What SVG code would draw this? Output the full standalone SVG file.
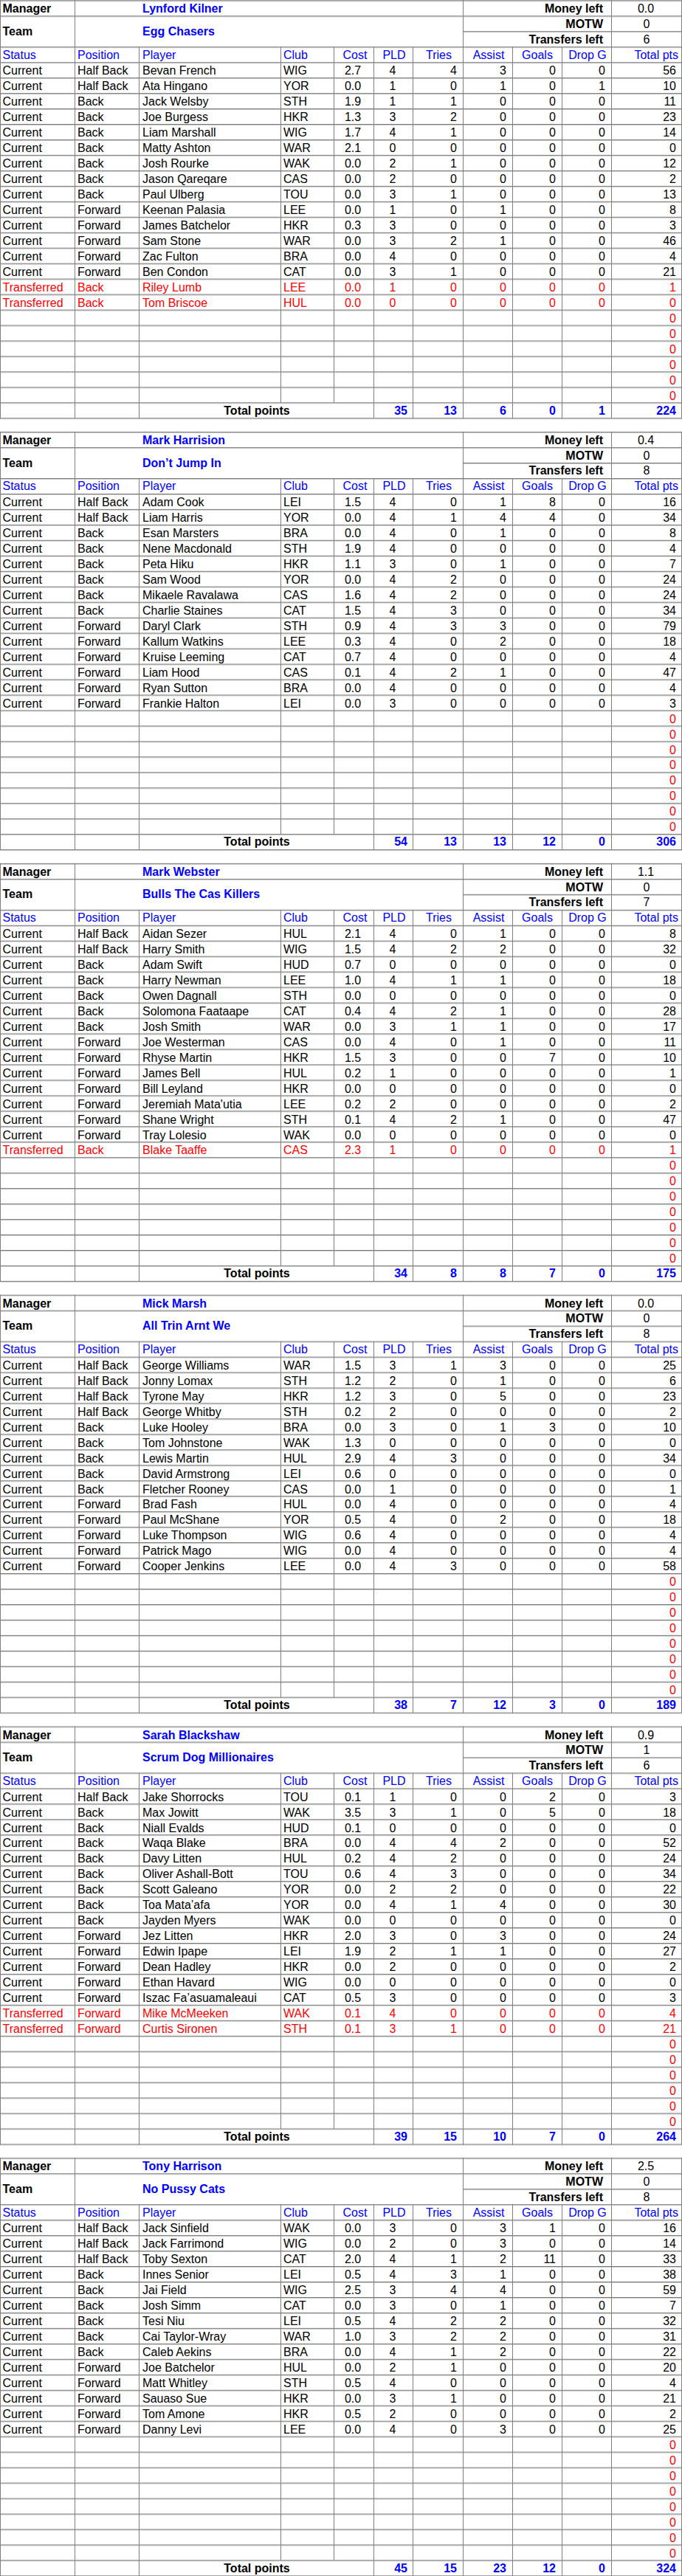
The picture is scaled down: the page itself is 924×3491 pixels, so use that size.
<svg xmlns="http://www.w3.org/2000/svg" xmlns:xlink="http://www.w3.org/1999/xlink" width="924" height="3491" viewBox="0 0 924 3491">
<style>
text{font-family:"Liberation Sans",Arial,Helvetica,sans-serif;font-size:16px;fill:#000}
.b{font-weight:bold}
text.bl,.bl text{fill:#0000ff}
.r text{fill:#ff0000}
.m{text-anchor:middle}
.e{text-anchor:end}
.gd{stroke:#7a7a7a;stroke-width:1;fill:none}
.gl{stroke:#cbcbcb;stroke-width:1;fill:none}
.gv{stroke:#7f7f7f;stroke-width:1;fill:none}
</style>
<defs>
<g id="frame">
<path class="gl" d="M0 1.5H924M0 22.5H924M627 43.4H924M0 64.4H924M0 85.4H924M0 106.3H924M0 127.3H924M0 148.2H924M0 169.2H924M0 190.2H924M0 211.1H924M0 232.1H924M0 253.1H924M0 274H924M0 295H924M0 316H924M0 336.9H924M0 357.9H924M0 378.8H924M0 399.8H924M0 420.8H924M0 441.7H924M0 462.7H924M0 483.7H924M0 504.6H924M0 525.6H924M0 546.5H924M0 567.5H924"/>
<path class="gd" d="M0 0.5H924M0 21.5H924M627 42.4H924M0 63.4H924M0 84.4H924M0 105.3H924M0 126.3H924M0 147.2H924M0 168.2H924M0 189.2H924M0 210.1H924M0 231.1H924M0 252.1H924M0 273H924M0 294H924M0 315H924M0 335.9H924M0 356.9H924M0 377.8H924M0 398.8H924M0 419.8H924M0 440.7H924M0 461.7H924M0 482.7H924M0 503.6H924M0 524.6H924M0 545.5H924M0 566.5H924"/>
<path class="gv" d="M0.5 0V567M923.5 0V567M101.5 0V567M627.5 0V567M828.5 0V567M188.5 63.4V567M506.5 63.4V567M559.5 63.4V567M694.5 63.4V567M761.5 63.4V567M380.5 63.4V545.5M452.5 63.4V545.5"/>
<text class="b" x="3.5" y="17.2">Manager</text>
<text class="b" x="3.5" y="47.5">Team</text>
<text class="b e" x="817" y="17.2">Money left</text>
<text class="b e" x="817" y="37.8">MOTW</text>
<text class="b e" x="817" y="58.3">Transfers left</text>
<g class="bl">
<text x="3.5" y="79.4">Status</text>
<text x="105" y="79.4">Position</text>
<text x="193" y="79.4">Player</text>
<text x="384" y="79.4">Club</text>
<text class="m" x="481" y="79.4">Cost</text>
<text class="m" x="534" y="79.4">PLD</text>
<text class="m" x="594.5" y="79.4">Tries</text>
<text class="m" x="662" y="79.4">Assist</text>
<text class="m" x="728" y="79.4">Goals</text>
<text class="m" x="796" y="79.4">Drop G</text>
<text class="e" x="919" y="79.4">Total pts</text>
</g>
<text class="b m" x="348" y="561.3">Total points</text>
</g>
</defs>

<g id="team-1" transform="translate(0,0.3)">
<use xlink:href="#frame" href="#frame"/>
<text class="b bl" x="193" y="17.2">Lynford Kilner</text>
<text class="b bl" x="193" y="47.5">Egg Chasers</text>
<text class="m" x="875" y="17.2">0.0</text>
<text class="m" x="876" y="37.8">0</text>
<text class="m" x="876" y="58.3">6</text>
<g transform="translate(0,101.1)"><text x="3.5">Current</text><text x="105">Half Back</text><text x="193">Bevan French</text><text x="384">WIG</text><text x="478" class="m">2.7</text><text x="532" class="m">4</text><text x="619" class="e">4</text><text x="686" class="e">3</text><text x="753" class="e">0</text><text x="820" class="e">0</text><text x="916" class="e">56</text></g>
<g transform="translate(0,122)"><text x="3.5">Current</text><text x="105">Half Back</text><text x="193">Ata Hingano</text><text x="384">YOR</text><text x="478" class="m">0.0</text><text x="532" class="m">1</text><text x="619" class="e">0</text><text x="686" class="e">1</text><text x="753" class="e">0</text><text x="820" class="e">1</text><text x="916" class="e">10</text></g>
<g transform="translate(0,143)"><text x="3.5">Current</text><text x="105">Back</text><text x="193">Jack Welsby</text><text x="384">STH</text><text x="478" class="m">1.9</text><text x="532" class="m">1</text><text x="619" class="e">1</text><text x="686" class="e">0</text><text x="753" class="e">0</text><text x="820" class="e">0</text><text x="916" class="e">11</text></g>
<g transform="translate(0,163.9)"><text x="3.5">Current</text><text x="105">Back</text><text x="193">Joe Burgess</text><text x="384">HKR</text><text x="478" class="m">1.3</text><text x="532" class="m">3</text><text x="619" class="e">2</text><text x="686" class="e">0</text><text x="753" class="e">0</text><text x="820" class="e">0</text><text x="916" class="e">23</text></g>
<g transform="translate(0,184.9)"><text x="3.5">Current</text><text x="105">Back</text><text x="193">Liam Marshall</text><text x="384">WIG</text><text x="478" class="m">1.7</text><text x="532" class="m">4</text><text x="619" class="e">1</text><text x="686" class="e">0</text><text x="753" class="e">0</text><text x="820" class="e">0</text><text x="916" class="e">14</text></g>
<g transform="translate(0,205.9)"><text x="3.5">Current</text><text x="105">Back</text><text x="193">Matty Ashton</text><text x="384">WAR</text><text x="478" class="m">2.1</text><text x="532" class="m">0</text><text x="619" class="e">0</text><text x="686" class="e">0</text><text x="753" class="e">0</text><text x="820" class="e">0</text><text x="916" class="e">0</text></g>
<g transform="translate(0,226.8)"><text x="3.5">Current</text><text x="105">Back</text><text x="193">Josh Rourke</text><text x="384">WAK</text><text x="478" class="m">0.0</text><text x="532" class="m">2</text><text x="619" class="e">1</text><text x="686" class="e">0</text><text x="753" class="e">0</text><text x="820" class="e">0</text><text x="916" class="e">12</text></g>
<g transform="translate(0,247.8)"><text x="3.5">Current</text><text x="105">Back</text><text x="193">Jason Qareqare</text><text x="384">CAS</text><text x="478" class="m">0.0</text><text x="532" class="m">2</text><text x="619" class="e">0</text><text x="686" class="e">0</text><text x="753" class="e">0</text><text x="820" class="e">0</text><text x="916" class="e">2</text></g>
<g transform="translate(0,268.8)"><text x="3.5">Current</text><text x="105">Back</text><text x="193">Paul Ulberg</text><text x="384">TOU</text><text x="478" class="m">0.0</text><text x="532" class="m">3</text><text x="619" class="e">1</text><text x="686" class="e">0</text><text x="753" class="e">0</text><text x="820" class="e">0</text><text x="916" class="e">13</text></g>
<g transform="translate(0,289.7)"><text x="3.5">Current</text><text x="105">Forward</text><text x="193">Keenan Palasia</text><text x="384">LEE</text><text x="478" class="m">0.0</text><text x="532" class="m">1</text><text x="619" class="e">0</text><text x="686" class="e">1</text><text x="753" class="e">0</text><text x="820" class="e">0</text><text x="916" class="e">8</text></g>
<g transform="translate(0,310.7)"><text x="3.5">Current</text><text x="105">Forward</text><text x="193">James Batchelor</text><text x="384">HKR</text><text x="478" class="m">0.3</text><text x="532" class="m">3</text><text x="619" class="e">0</text><text x="686" class="e">0</text><text x="753" class="e">0</text><text x="820" class="e">0</text><text x="916" class="e">3</text></g>
<g transform="translate(0,331.6)"><text x="3.5">Current</text><text x="105">Forward</text><text x="193">Sam Stone</text><text x="384">WAR</text><text x="478" class="m">0.0</text><text x="532" class="m">3</text><text x="619" class="e">2</text><text x="686" class="e">1</text><text x="753" class="e">0</text><text x="820" class="e">0</text><text x="916" class="e">46</text></g>
<g transform="translate(0,352.6)"><text x="3.5">Current</text><text x="105">Forward</text><text x="193">Zac Fulton</text><text x="384">BRA</text><text x="478" class="m">0.0</text><text x="532" class="m">4</text><text x="619" class="e">0</text><text x="686" class="e">0</text><text x="753" class="e">0</text><text x="820" class="e">0</text><text x="916" class="e">4</text></g>
<g transform="translate(0,373.6)"><text x="3.5">Current</text><text x="105">Forward</text><text x="193">Ben Condon</text><text x="384">CAT</text><text x="478" class="m">0.0</text><text x="532" class="m">3</text><text x="619" class="e">1</text><text x="686" class="e">0</text><text x="753" class="e">0</text><text x="820" class="e">0</text><text x="916" class="e">21</text></g>
<g class="r" transform="translate(0,394.5)"><text x="3.5">Transferred</text><text x="105">Back</text><text x="193">Riley Lumb</text><text x="384">LEE</text><text x="478" class="m">0.0</text><text x="532" class="m">1</text><text x="619" class="e">0</text><text x="686" class="e">0</text><text x="753" class="e">0</text><text x="820" class="e">0</text><text x="916" class="e">1</text></g>
<g class="r" transform="translate(0,415.5)"><text x="3.5">Transferred</text><text x="105">Back</text><text x="193">Tom Briscoe</text><text x="384">HUL</text><text x="478" class="m">0.0</text><text x="532" class="m">0</text><text x="619" class="e">0</text><text x="686" class="e">0</text><text x="753" class="e">0</text><text x="820" class="e">0</text><text x="916" class="e">0</text></g>
<g class="r"><text x="916" y="436.5" class="e">0</text><text x="916" y="457.4" class="e">0</text><text x="916" y="478.4" class="e">0</text><text x="916" y="499.3" class="e">0</text><text x="916" y="520.3" class="e">0</text><text x="916" y="541.3" class="e">0</text></g>
<g class="b bl"><text x="552" y="561.3" class="e">35</text><text x="619" y="561.3" class="e">13</text><text x="686" y="561.3" class="e">6</text><text x="753" y="561.3" class="e">0</text><text x="820" y="561.3" class="e">1</text><text x="916" y="561.3" class="e">224</text></g>
</g>

<g id="team-2" transform="translate(0,585.1)">
<use xlink:href="#frame" href="#frame"/>
<text class="b bl" x="193" y="17.2">Mark Harrision</text>
<text class="b bl" x="193" y="47.5">Don’t Jump In</text>
<text class="m" x="875" y="17.2">0.4</text>
<text class="m" x="876" y="37.8">0</text>
<text class="m" x="876" y="58.3">8</text>
<g transform="translate(0,101.1)"><text x="3.5">Current</text><text x="105">Half Back</text><text x="193">Adam Cook</text><text x="384">LEI</text><text x="478" class="m">1.5</text><text x="532" class="m">4</text><text x="619" class="e">0</text><text x="686" class="e">1</text><text x="753" class="e">8</text><text x="820" class="e">0</text><text x="916" class="e">16</text></g>
<g transform="translate(0,122)"><text x="3.5">Current</text><text x="105">Half Back</text><text x="193">Liam Harris</text><text x="384">YOR</text><text x="478" class="m">0.0</text><text x="532" class="m">4</text><text x="619" class="e">1</text><text x="686" class="e">4</text><text x="753" class="e">4</text><text x="820" class="e">0</text><text x="916" class="e">34</text></g>
<g transform="translate(0,143)"><text x="3.5">Current</text><text x="105">Back</text><text x="193">Esan Marsters</text><text x="384">BRA</text><text x="478" class="m">0.0</text><text x="532" class="m">4</text><text x="619" class="e">0</text><text x="686" class="e">1</text><text x="753" class="e">0</text><text x="820" class="e">0</text><text x="916" class="e">8</text></g>
<g transform="translate(0,163.9)"><text x="3.5">Current</text><text x="105">Back</text><text x="193">Nene Macdonald</text><text x="384">STH</text><text x="478" class="m">1.9</text><text x="532" class="m">4</text><text x="619" class="e">0</text><text x="686" class="e">0</text><text x="753" class="e">0</text><text x="820" class="e">0</text><text x="916" class="e">4</text></g>
<g transform="translate(0,184.9)"><text x="3.5">Current</text><text x="105">Back</text><text x="193">Peta Hiku</text><text x="384">HKR</text><text x="478" class="m">1.1</text><text x="532" class="m">3</text><text x="619" class="e">0</text><text x="686" class="e">1</text><text x="753" class="e">0</text><text x="820" class="e">0</text><text x="916" class="e">7</text></g>
<g transform="translate(0,205.9)"><text x="3.5">Current</text><text x="105">Back</text><text x="193">Sam Wood</text><text x="384">YOR</text><text x="478" class="m">0.0</text><text x="532" class="m">4</text><text x="619" class="e">2</text><text x="686" class="e">0</text><text x="753" class="e">0</text><text x="820" class="e">0</text><text x="916" class="e">24</text></g>
<g transform="translate(0,226.8)"><text x="3.5">Current</text><text x="105">Back</text><text x="193">Mikaele Ravalawa</text><text x="384">CAS</text><text x="478" class="m">1.6</text><text x="532" class="m">4</text><text x="619" class="e">2</text><text x="686" class="e">0</text><text x="753" class="e">0</text><text x="820" class="e">0</text><text x="916" class="e">24</text></g>
<g transform="translate(0,247.8)"><text x="3.5">Current</text><text x="105">Back</text><text x="193">Charlie Staines</text><text x="384">CAT</text><text x="478" class="m">1.5</text><text x="532" class="m">4</text><text x="619" class="e">3</text><text x="686" class="e">0</text><text x="753" class="e">0</text><text x="820" class="e">0</text><text x="916" class="e">34</text></g>
<g transform="translate(0,268.8)"><text x="3.5">Current</text><text x="105">Forward</text><text x="193">Daryl Clark</text><text x="384">STH</text><text x="478" class="m">0.9</text><text x="532" class="m">4</text><text x="619" class="e">3</text><text x="686" class="e">3</text><text x="753" class="e">0</text><text x="820" class="e">0</text><text x="916" class="e">79</text></g>
<g transform="translate(0,289.7)"><text x="3.5">Current</text><text x="105">Forward</text><text x="193">Kallum Watkins</text><text x="384">LEE</text><text x="478" class="m">0.3</text><text x="532" class="m">4</text><text x="619" class="e">0</text><text x="686" class="e">2</text><text x="753" class="e">0</text><text x="820" class="e">0</text><text x="916" class="e">18</text></g>
<g transform="translate(0,310.7)"><text x="3.5">Current</text><text x="105">Forward</text><text x="193">Kruise Leeming</text><text x="384">CAT</text><text x="478" class="m">0.7</text><text x="532" class="m">4</text><text x="619" class="e">0</text><text x="686" class="e">0</text><text x="753" class="e">0</text><text x="820" class="e">0</text><text x="916" class="e">4</text></g>
<g transform="translate(0,331.6)"><text x="3.5">Current</text><text x="105">Forward</text><text x="193">Liam Hood</text><text x="384">CAS</text><text x="478" class="m">0.1</text><text x="532" class="m">4</text><text x="619" class="e">2</text><text x="686" class="e">1</text><text x="753" class="e">0</text><text x="820" class="e">0</text><text x="916" class="e">47</text></g>
<g transform="translate(0,352.6)"><text x="3.5">Current</text><text x="105">Forward</text><text x="193">Ryan Sutton</text><text x="384">BRA</text><text x="478" class="m">0.0</text><text x="532" class="m">4</text><text x="619" class="e">0</text><text x="686" class="e">0</text><text x="753" class="e">0</text><text x="820" class="e">0</text><text x="916" class="e">4</text></g>
<g transform="translate(0,373.6)"><text x="3.5">Current</text><text x="105">Forward</text><text x="193">Frankie Halton</text><text x="384">LEI</text><text x="478" class="m">0.0</text><text x="532" class="m">3</text><text x="619" class="e">0</text><text x="686" class="e">0</text><text x="753" class="e">0</text><text x="820" class="e">0</text><text x="916" class="e">3</text></g>
<g class="r"><text x="916" y="394.5" class="e">0</text><text x="916" y="415.5" class="e">0</text><text x="916" y="436.5" class="e">0</text><text x="916" y="457.4" class="e">0</text><text x="916" y="478.4" class="e">0</text><text x="916" y="499.3" class="e">0</text><text x="916" y="520.3" class="e">0</text><text x="916" y="541.3" class="e">0</text></g>
<g class="b bl"><text x="552" y="561.3" class="e">54</text><text x="619" y="561.3" class="e">13</text><text x="686" y="561.3" class="e">13</text><text x="753" y="561.3" class="e">12</text><text x="820" y="561.3" class="e">0</text><text x="916" y="561.3" class="e">306</text></g>
</g>

<g id="team-3" transform="translate(0,1169.9)">
<use xlink:href="#frame" href="#frame"/>
<text class="b bl" x="193" y="17.2">Mark Webster</text>
<text class="b bl" x="193" y="47.5">Bulls The Cas Killers</text>
<text class="m" x="875" y="17.2">1.1</text>
<text class="m" x="876" y="37.8">0</text>
<text class="m" x="876" y="58.3">7</text>
<g transform="translate(0,101.1)"><text x="3.5">Current</text><text x="105">Half Back</text><text x="193">Aidan Sezer</text><text x="384">HUL</text><text x="478" class="m">2.1</text><text x="532" class="m">4</text><text x="619" class="e">0</text><text x="686" class="e">1</text><text x="753" class="e">0</text><text x="820" class="e">0</text><text x="916" class="e">8</text></g>
<g transform="translate(0,122)"><text x="3.5">Current</text><text x="105">Half Back</text><text x="193">Harry Smith</text><text x="384">WIG</text><text x="478" class="m">1.5</text><text x="532" class="m">4</text><text x="619" class="e">2</text><text x="686" class="e">2</text><text x="753" class="e">0</text><text x="820" class="e">0</text><text x="916" class="e">32</text></g>
<g transform="translate(0,143)"><text x="3.5">Current</text><text x="105">Back</text><text x="193">Adam Swift</text><text x="384">HUD</text><text x="478" class="m">0.7</text><text x="532" class="m">0</text><text x="619" class="e">0</text><text x="686" class="e">0</text><text x="753" class="e">0</text><text x="820" class="e">0</text><text x="916" class="e">0</text></g>
<g transform="translate(0,163.9)"><text x="3.5">Current</text><text x="105">Back</text><text x="193">Harry Newman</text><text x="384">LEE</text><text x="478" class="m">1.0</text><text x="532" class="m">4</text><text x="619" class="e">1</text><text x="686" class="e">1</text><text x="753" class="e">0</text><text x="820" class="e">0</text><text x="916" class="e">18</text></g>
<g transform="translate(0,184.9)"><text x="3.5">Current</text><text x="105">Back</text><text x="193">Owen Dagnall</text><text x="384">STH</text><text x="478" class="m">0.0</text><text x="532" class="m">0</text><text x="619" class="e">0</text><text x="686" class="e">0</text><text x="753" class="e">0</text><text x="820" class="e">0</text><text x="916" class="e">0</text></g>
<g transform="translate(0,205.9)"><text x="3.5">Current</text><text x="105">Back</text><text x="193">Solomona Faataape</text><text x="384">CAT</text><text x="478" class="m">0.4</text><text x="532" class="m">4</text><text x="619" class="e">2</text><text x="686" class="e">1</text><text x="753" class="e">0</text><text x="820" class="e">0</text><text x="916" class="e">28</text></g>
<g transform="translate(0,226.8)"><text x="3.5">Current</text><text x="105">Back</text><text x="193">Josh Smith</text><text x="384">WAR</text><text x="478" class="m">0.0</text><text x="532" class="m">3</text><text x="619" class="e">1</text><text x="686" class="e">1</text><text x="753" class="e">0</text><text x="820" class="e">0</text><text x="916" class="e">17</text></g>
<g transform="translate(0,247.8)"><text x="3.5">Current</text><text x="105">Forward</text><text x="193">Joe Westerman</text><text x="384">CAS</text><text x="478" class="m">0.0</text><text x="532" class="m">4</text><text x="619" class="e">0</text><text x="686" class="e">1</text><text x="753" class="e">0</text><text x="820" class="e">0</text><text x="916" class="e">11</text></g>
<g transform="translate(0,268.8)"><text x="3.5">Current</text><text x="105">Forward</text><text x="193">Rhyse Martin</text><text x="384">HKR</text><text x="478" class="m">1.5</text><text x="532" class="m">3</text><text x="619" class="e">0</text><text x="686" class="e">0</text><text x="753" class="e">7</text><text x="820" class="e">0</text><text x="916" class="e">10</text></g>
<g transform="translate(0,289.7)"><text x="3.5">Current</text><text x="105">Forward</text><text x="193">James Bell</text><text x="384">HUL</text><text x="478" class="m">0.2</text><text x="532" class="m">1</text><text x="619" class="e">0</text><text x="686" class="e">0</text><text x="753" class="e">0</text><text x="820" class="e">0</text><text x="916" class="e">1</text></g>
<g transform="translate(0,310.7)"><text x="3.5">Current</text><text x="105">Forward</text><text x="193">Bill Leyland</text><text x="384">HKR</text><text x="478" class="m">0.0</text><text x="532" class="m">0</text><text x="619" class="e">0</text><text x="686" class="e">0</text><text x="753" class="e">0</text><text x="820" class="e">0</text><text x="916" class="e">0</text></g>
<g transform="translate(0,331.6)"><text x="3.5">Current</text><text x="105">Forward</text><text x="193">Jeremiah Mata'utia</text><text x="384">LEE</text><text x="478" class="m">0.2</text><text x="532" class="m">2</text><text x="619" class="e">0</text><text x="686" class="e">0</text><text x="753" class="e">0</text><text x="820" class="e">0</text><text x="916" class="e">2</text></g>
<g transform="translate(0,352.6)"><text x="3.5">Current</text><text x="105">Forward</text><text x="193">Shane Wright</text><text x="384">STH</text><text x="478" class="m">0.1</text><text x="532" class="m">4</text><text x="619" class="e">2</text><text x="686" class="e">1</text><text x="753" class="e">0</text><text x="820" class="e">0</text><text x="916" class="e">47</text></g>
<g transform="translate(0,373.6)"><text x="3.5">Current</text><text x="105">Forward</text><text x="193">Tray Lolesio</text><text x="384">WAK</text><text x="478" class="m">0.0</text><text x="532" class="m">0</text><text x="619" class="e">0</text><text x="686" class="e">0</text><text x="753" class="e">0</text><text x="820" class="e">0</text><text x="916" class="e">0</text></g>
<g class="r" transform="translate(0,394.5)"><text x="3.5">Transferred</text><text x="105">Back</text><text x="193">Blake Taaffe</text><text x="384">CAS</text><text x="478" class="m">2.3</text><text x="532" class="m">1</text><text x="619" class="e">0</text><text x="686" class="e">0</text><text x="753" class="e">0</text><text x="820" class="e">0</text><text x="916" class="e">1</text></g>
<g class="r"><text x="916" y="415.5" class="e">0</text><text x="916" y="436.5" class="e">0</text><text x="916" y="457.4" class="e">0</text><text x="916" y="478.4" class="e">0</text><text x="916" y="499.3" class="e">0</text><text x="916" y="520.3" class="e">0</text><text x="916" y="541.3" class="e">0</text></g>
<g class="b bl"><text x="552" y="561.3" class="e">34</text><text x="619" y="561.3" class="e">8</text><text x="686" y="561.3" class="e">8</text><text x="753" y="561.3" class="e">7</text><text x="820" y="561.3" class="e">0</text><text x="916" y="561.3" class="e">175</text></g>
</g>

<g id="team-4" transform="translate(0,1754.7)">
<use xlink:href="#frame" href="#frame"/>
<text class="b bl" x="193" y="17.2">Mick Marsh</text>
<text class="b bl" x="193" y="47.5">All Trin Arnt We</text>
<text class="m" x="875" y="17.2">0.0</text>
<text class="m" x="876" y="37.8">0</text>
<text class="m" x="876" y="58.3">8</text>
<g transform="translate(0,101.1)"><text x="3.5">Current</text><text x="105">Half Back</text><text x="193">George Williams</text><text x="384">WAR</text><text x="478" class="m">1.5</text><text x="532" class="m">3</text><text x="619" class="e">1</text><text x="686" class="e">3</text><text x="753" class="e">0</text><text x="820" class="e">0</text><text x="916" class="e">25</text></g>
<g transform="translate(0,122)"><text x="3.5">Current</text><text x="105">Half Back</text><text x="193">Jonny Lomax</text><text x="384">STH</text><text x="478" class="m">1.2</text><text x="532" class="m">2</text><text x="619" class="e">0</text><text x="686" class="e">1</text><text x="753" class="e">0</text><text x="820" class="e">0</text><text x="916" class="e">6</text></g>
<g transform="translate(0,143)"><text x="3.5">Current</text><text x="105">Half Back</text><text x="193">Tyrone May</text><text x="384">HKR</text><text x="478" class="m">1.2</text><text x="532" class="m">3</text><text x="619" class="e">0</text><text x="686" class="e">5</text><text x="753" class="e">0</text><text x="820" class="e">0</text><text x="916" class="e">23</text></g>
<g transform="translate(0,163.9)"><text x="3.5">Current</text><text x="105">Half Back</text><text x="193">George Whitby</text><text x="384">STH</text><text x="478" class="m">0.2</text><text x="532" class="m">2</text><text x="619" class="e">0</text><text x="686" class="e">0</text><text x="753" class="e">0</text><text x="820" class="e">0</text><text x="916" class="e">2</text></g>
<g transform="translate(0,184.9)"><text x="3.5">Current</text><text x="105">Back</text><text x="193">Luke Hooley</text><text x="384">BRA</text><text x="478" class="m">0.0</text><text x="532" class="m">3</text><text x="619" class="e">0</text><text x="686" class="e">1</text><text x="753" class="e">3</text><text x="820" class="e">0</text><text x="916" class="e">10</text></g>
<g transform="translate(0,205.9)"><text x="3.5">Current</text><text x="105">Back</text><text x="193">Tom Johnstone</text><text x="384">WAK</text><text x="478" class="m">1.3</text><text x="532" class="m">0</text><text x="619" class="e">0</text><text x="686" class="e">0</text><text x="753" class="e">0</text><text x="820" class="e">0</text><text x="916" class="e">0</text></g>
<g transform="translate(0,226.8)"><text x="3.5">Current</text><text x="105">Back</text><text x="193">Lewis Martin</text><text x="384">HUL</text><text x="478" class="m">2.9</text><text x="532" class="m">4</text><text x="619" class="e">3</text><text x="686" class="e">0</text><text x="753" class="e">0</text><text x="820" class="e">0</text><text x="916" class="e">34</text></g>
<g transform="translate(0,247.8)"><text x="3.5">Current</text><text x="105">Back</text><text x="193">David Armstrong</text><text x="384">LEI</text><text x="478" class="m">0.6</text><text x="532" class="m">0</text><text x="619" class="e">0</text><text x="686" class="e">0</text><text x="753" class="e">0</text><text x="820" class="e">0</text><text x="916" class="e">0</text></g>
<g transform="translate(0,268.8)"><text x="3.5">Current</text><text x="105">Back</text><text x="193">Fletcher Rooney</text><text x="384">CAS</text><text x="478" class="m">0.0</text><text x="532" class="m">1</text><text x="619" class="e">0</text><text x="686" class="e">0</text><text x="753" class="e">0</text><text x="820" class="e">0</text><text x="916" class="e">1</text></g>
<g transform="translate(0,289.7)"><text x="3.5">Current</text><text x="105">Forward</text><text x="193">Brad Fash</text><text x="384">HUL</text><text x="478" class="m">0.0</text><text x="532" class="m">4</text><text x="619" class="e">0</text><text x="686" class="e">0</text><text x="753" class="e">0</text><text x="820" class="e">0</text><text x="916" class="e">4</text></g>
<g transform="translate(0,310.7)"><text x="3.5">Current</text><text x="105">Forward</text><text x="193">Paul McShane</text><text x="384">YOR</text><text x="478" class="m">0.5</text><text x="532" class="m">4</text><text x="619" class="e">0</text><text x="686" class="e">2</text><text x="753" class="e">0</text><text x="820" class="e">0</text><text x="916" class="e">18</text></g>
<g transform="translate(0,331.6)"><text x="3.5">Current</text><text x="105">Forward</text><text x="193">Luke Thompson</text><text x="384">WIG</text><text x="478" class="m">0.6</text><text x="532" class="m">4</text><text x="619" class="e">0</text><text x="686" class="e">0</text><text x="753" class="e">0</text><text x="820" class="e">0</text><text x="916" class="e">4</text></g>
<g transform="translate(0,352.6)"><text x="3.5">Current</text><text x="105">Forward</text><text x="193">Patrick Mago</text><text x="384">WIG</text><text x="478" class="m">0.0</text><text x="532" class="m">4</text><text x="619" class="e">0</text><text x="686" class="e">0</text><text x="753" class="e">0</text><text x="820" class="e">0</text><text x="916" class="e">4</text></g>
<g transform="translate(0,373.6)"><text x="3.5">Current</text><text x="105">Forward</text><text x="193">Cooper Jenkins</text><text x="384">LEE</text><text x="478" class="m">0.0</text><text x="532" class="m">4</text><text x="619" class="e">3</text><text x="686" class="e">0</text><text x="753" class="e">0</text><text x="820" class="e">0</text><text x="916" class="e">58</text></g>
<g class="r"><text x="916" y="394.5" class="e">0</text><text x="916" y="415.5" class="e">0</text><text x="916" y="436.5" class="e">0</text><text x="916" y="457.4" class="e">0</text><text x="916" y="478.4" class="e">0</text><text x="916" y="499.3" class="e">0</text><text x="916" y="520.3" class="e">0</text><text x="916" y="541.3" class="e">0</text></g>
<g class="b bl"><text x="552" y="561.3" class="e">38</text><text x="619" y="561.3" class="e">7</text><text x="686" y="561.3" class="e">12</text><text x="753" y="561.3" class="e">3</text><text x="820" y="561.3" class="e">0</text><text x="916" y="561.3" class="e">189</text></g>
</g>

<g id="team-5" transform="translate(0,2339.5)">
<use xlink:href="#frame" href="#frame"/>
<text class="b bl" x="193" y="17.2">Sarah Blackshaw</text>
<text class="b bl" x="193" y="47.5">Scrum Dog Millionaires</text>
<text class="m" x="875" y="17.2">0.9</text>
<text class="m" x="876" y="37.8">1</text>
<text class="m" x="876" y="58.3">6</text>
<g transform="translate(0,101.1)"><text x="3.5">Current</text><text x="105">Half Back</text><text x="193">Jake Shorrocks</text><text x="384">TOU</text><text x="478" class="m">0.1</text><text x="532" class="m">1</text><text x="619" class="e">0</text><text x="686" class="e">0</text><text x="753" class="e">2</text><text x="820" class="e">0</text><text x="916" class="e">3</text></g>
<g transform="translate(0,122)"><text x="3.5">Current</text><text x="105">Back</text><text x="193">Max Jowitt</text><text x="384">WAK</text><text x="478" class="m">3.5</text><text x="532" class="m">3</text><text x="619" class="e">1</text><text x="686" class="e">0</text><text x="753" class="e">5</text><text x="820" class="e">0</text><text x="916" class="e">18</text></g>
<g transform="translate(0,143)"><text x="3.5">Current</text><text x="105">Back</text><text x="193">Niall Evalds</text><text x="384">HUD</text><text x="478" class="m">0.1</text><text x="532" class="m">0</text><text x="619" class="e">0</text><text x="686" class="e">0</text><text x="753" class="e">0</text><text x="820" class="e">0</text><text x="916" class="e">0</text></g>
<g transform="translate(0,163.9)"><text x="3.5">Current</text><text x="105">Back</text><text x="193">Waqa Blake</text><text x="384">BRA</text><text x="478" class="m">0.0</text><text x="532" class="m">4</text><text x="619" class="e">4</text><text x="686" class="e">2</text><text x="753" class="e">0</text><text x="820" class="e">0</text><text x="916" class="e">52</text></g>
<g transform="translate(0,184.9)"><text x="3.5">Current</text><text x="105">Back</text><text x="193">Davy Litten</text><text x="384">HUL</text><text x="478" class="m">0.2</text><text x="532" class="m">4</text><text x="619" class="e">2</text><text x="686" class="e">0</text><text x="753" class="e">0</text><text x="820" class="e">0</text><text x="916" class="e">24</text></g>
<g transform="translate(0,205.9)"><text x="3.5">Current</text><text x="105">Back</text><text x="193">Oliver Ashall-Bott</text><text x="384">TOU</text><text x="478" class="m">0.6</text><text x="532" class="m">4</text><text x="619" class="e">3</text><text x="686" class="e">0</text><text x="753" class="e">0</text><text x="820" class="e">0</text><text x="916" class="e">34</text></g>
<g transform="translate(0,226.8)"><text x="3.5">Current</text><text x="105">Back</text><text x="193">Scott Galeano</text><text x="384">YOR</text><text x="478" class="m">0.0</text><text x="532" class="m">2</text><text x="619" class="e">2</text><text x="686" class="e">0</text><text x="753" class="e">0</text><text x="820" class="e">0</text><text x="916" class="e">22</text></g>
<g transform="translate(0,247.8)"><text x="3.5">Current</text><text x="105">Back</text><text x="193">Toa Mata’afa</text><text x="384">YOR</text><text x="478" class="m">0.0</text><text x="532" class="m">4</text><text x="619" class="e">1</text><text x="686" class="e">4</text><text x="753" class="e">0</text><text x="820" class="e">0</text><text x="916" class="e">30</text></g>
<g transform="translate(0,268.8)"><text x="3.5">Current</text><text x="105">Back</text><text x="193">Jayden Myers</text><text x="384">WAK</text><text x="478" class="m">0.0</text><text x="532" class="m">0</text><text x="619" class="e">0</text><text x="686" class="e">0</text><text x="753" class="e">0</text><text x="820" class="e">0</text><text x="916" class="e">0</text></g>
<g transform="translate(0,289.7)"><text x="3.5">Current</text><text x="105">Forward</text><text x="193">Jez Litten</text><text x="384">HKR</text><text x="478" class="m">2.0</text><text x="532" class="m">3</text><text x="619" class="e">0</text><text x="686" class="e">3</text><text x="753" class="e">0</text><text x="820" class="e">0</text><text x="916" class="e">24</text></g>
<g transform="translate(0,310.7)"><text x="3.5">Current</text><text x="105">Forward</text><text x="193">Edwin Ipape</text><text x="384">LEI</text><text x="478" class="m">1.9</text><text x="532" class="m">2</text><text x="619" class="e">1</text><text x="686" class="e">1</text><text x="753" class="e">0</text><text x="820" class="e">0</text><text x="916" class="e">27</text></g>
<g transform="translate(0,331.6)"><text x="3.5">Current</text><text x="105">Forward</text><text x="193">Dean Hadley</text><text x="384">HKR</text><text x="478" class="m">0.0</text><text x="532" class="m">2</text><text x="619" class="e">0</text><text x="686" class="e">0</text><text x="753" class="e">0</text><text x="820" class="e">0</text><text x="916" class="e">2</text></g>
<g transform="translate(0,352.6)"><text x="3.5">Current</text><text x="105">Forward</text><text x="193">Ethan Havard</text><text x="384">WIG</text><text x="478" class="m">0.0</text><text x="532" class="m">0</text><text x="619" class="e">0</text><text x="686" class="e">0</text><text x="753" class="e">0</text><text x="820" class="e">0</text><text x="916" class="e">0</text></g>
<g transform="translate(0,373.6)"><text x="3.5">Current</text><text x="105">Forward</text><text x="193">Iszac Fa’asuamaleaui</text><text x="384">CAT</text><text x="478" class="m">0.5</text><text x="532" class="m">3</text><text x="619" class="e">0</text><text x="686" class="e">0</text><text x="753" class="e">0</text><text x="820" class="e">0</text><text x="916" class="e">3</text></g>
<g class="r" transform="translate(0,394.5)"><text x="3.5">Transferred</text><text x="105">Forward</text><text x="193">Mike McMeeken</text><text x="384">WAK</text><text x="478" class="m">0.1</text><text x="532" class="m">4</text><text x="619" class="e">0</text><text x="686" class="e">0</text><text x="753" class="e">0</text><text x="820" class="e">0</text><text x="916" class="e">4</text></g>
<g class="r" transform="translate(0,415.5)"><text x="3.5">Transferred</text><text x="105">Forward</text><text x="193">Curtis Sironen</text><text x="384">STH</text><text x="478" class="m">0.1</text><text x="532" class="m">3</text><text x="619" class="e">1</text><text x="686" class="e">0</text><text x="753" class="e">0</text><text x="820" class="e">0</text><text x="916" class="e">21</text></g>
<g class="r"><text x="916" y="436.5" class="e">0</text><text x="916" y="457.4" class="e">0</text><text x="916" y="478.4" class="e">0</text><text x="916" y="499.3" class="e">0</text><text x="916" y="520.3" class="e">0</text><text x="916" y="541.3" class="e">0</text></g>
<g class="b bl"><text x="552" y="561.3" class="e">39</text><text x="619" y="561.3" class="e">15</text><text x="686" y="561.3" class="e">10</text><text x="753" y="561.3" class="e">7</text><text x="820" y="561.3" class="e">0</text><text x="916" y="561.3" class="e">264</text></g>
</g>

<g id="team-6" transform="translate(0,2924.3)">
<use xlink:href="#frame" href="#frame"/>
<text class="b bl" x="193" y="17.2">Tony Harrison</text>
<text class="b bl" x="193" y="47.5">No Pussy Cats</text>
<text class="m" x="875" y="17.2">2.5</text>
<text class="m" x="876" y="37.8">0</text>
<text class="m" x="876" y="58.3">8</text>
<g transform="translate(0,101.1)"><text x="3.5">Current</text><text x="105">Half Back</text><text x="193">Jack Sinfield</text><text x="384">WAK</text><text x="478" class="m">0.0</text><text x="532" class="m">3</text><text x="619" class="e">0</text><text x="686" class="e">3</text><text x="753" class="e">1</text><text x="820" class="e">0</text><text x="916" class="e">16</text></g>
<g transform="translate(0,122)"><text x="3.5">Current</text><text x="105">Half Back</text><text x="193">Jack Farrimond</text><text x="384">WIG</text><text x="478" class="m">0.0</text><text x="532" class="m">2</text><text x="619" class="e">0</text><text x="686" class="e">3</text><text x="753" class="e">0</text><text x="820" class="e">0</text><text x="916" class="e">14</text></g>
<g transform="translate(0,143)"><text x="3.5">Current</text><text x="105">Half Back</text><text x="193">Toby Sexton</text><text x="384">CAT</text><text x="478" class="m">2.0</text><text x="532" class="m">4</text><text x="619" class="e">1</text><text x="686" class="e">2</text><text x="753" class="e">11</text><text x="820" class="e">0</text><text x="916" class="e">33</text></g>
<g transform="translate(0,163.9)"><text x="3.5">Current</text><text x="105">Back</text><text x="193">Innes Senior</text><text x="384">LEI</text><text x="478" class="m">0.5</text><text x="532" class="m">4</text><text x="619" class="e">3</text><text x="686" class="e">1</text><text x="753" class="e">0</text><text x="820" class="e">0</text><text x="916" class="e">38</text></g>
<g transform="translate(0,184.9)"><text x="3.5">Current</text><text x="105">Back</text><text x="193">Jai Field</text><text x="384">WIG</text><text x="478" class="m">2.5</text><text x="532" class="m">3</text><text x="619" class="e">4</text><text x="686" class="e">4</text><text x="753" class="e">0</text><text x="820" class="e">0</text><text x="916" class="e">59</text></g>
<g transform="translate(0,205.9)"><text x="3.5">Current</text><text x="105">Back</text><text x="193">Josh Simm</text><text x="384">CAT</text><text x="478" class="m">0.0</text><text x="532" class="m">3</text><text x="619" class="e">0</text><text x="686" class="e">1</text><text x="753" class="e">0</text><text x="820" class="e">0</text><text x="916" class="e">7</text></g>
<g transform="translate(0,226.8)"><text x="3.5">Current</text><text x="105">Back</text><text x="193">Tesi Niu</text><text x="384">LEI</text><text x="478" class="m">0.5</text><text x="532" class="m">4</text><text x="619" class="e">2</text><text x="686" class="e">2</text><text x="753" class="e">0</text><text x="820" class="e">0</text><text x="916" class="e">32</text></g>
<g transform="translate(0,247.8)"><text x="3.5">Current</text><text x="105">Back</text><text x="193">Cai Taylor-Wray</text><text x="384">WAR</text><text x="478" class="m">1.0</text><text x="532" class="m">3</text><text x="619" class="e">2</text><text x="686" class="e">2</text><text x="753" class="e">0</text><text x="820" class="e">0</text><text x="916" class="e">31</text></g>
<g transform="translate(0,268.8)"><text x="3.5">Current</text><text x="105">Back</text><text x="193">Caleb Aekins</text><text x="384">BRA</text><text x="478" class="m">0.0</text><text x="532" class="m">4</text><text x="619" class="e">1</text><text x="686" class="e">2</text><text x="753" class="e">0</text><text x="820" class="e">0</text><text x="916" class="e">22</text></g>
<g transform="translate(0,289.7)"><text x="3.5">Current</text><text x="105">Forward</text><text x="193">Joe Batchelor</text><text x="384">HUL</text><text x="478" class="m">0.0</text><text x="532" class="m">2</text><text x="619" class="e">1</text><text x="686" class="e">0</text><text x="753" class="e">0</text><text x="820" class="e">0</text><text x="916" class="e">20</text></g>
<g transform="translate(0,310.7)"><text x="3.5">Current</text><text x="105">Forward</text><text x="193">Matt Whitley</text><text x="384">STH</text><text x="478" class="m">0.5</text><text x="532" class="m">4</text><text x="619" class="e">0</text><text x="686" class="e">0</text><text x="753" class="e">0</text><text x="820" class="e">0</text><text x="916" class="e">4</text></g>
<g transform="translate(0,331.6)"><text x="3.5">Current</text><text x="105">Forward</text><text x="193">Sauaso Sue</text><text x="384">HKR</text><text x="478" class="m">0.0</text><text x="532" class="m">3</text><text x="619" class="e">1</text><text x="686" class="e">0</text><text x="753" class="e">0</text><text x="820" class="e">0</text><text x="916" class="e">21</text></g>
<g transform="translate(0,352.6)"><text x="3.5">Current</text><text x="105">Forward</text><text x="193">Tom Amone</text><text x="384">HKR</text><text x="478" class="m">0.5</text><text x="532" class="m">2</text><text x="619" class="e">0</text><text x="686" class="e">0</text><text x="753" class="e">0</text><text x="820" class="e">0</text><text x="916" class="e">2</text></g>
<g transform="translate(0,373.6)"><text x="3.5">Current</text><text x="105">Forward</text><text x="193">Danny Levi</text><text x="384">LEE</text><text x="478" class="m">0.0</text><text x="532" class="m">4</text><text x="619" class="e">0</text><text x="686" class="e">3</text><text x="753" class="e">0</text><text x="820" class="e">0</text><text x="916" class="e">25</text></g>
<g class="r"><text x="916" y="394.5" class="e">0</text><text x="916" y="415.5" class="e">0</text><text x="916" y="436.5" class="e">0</text><text x="916" y="457.4" class="e">0</text><text x="916" y="478.4" class="e">0</text><text x="916" y="499.3" class="e">0</text><text x="916" y="520.3" class="e">0</text><text x="916" y="541.3" class="e">0</text></g>
<g class="b bl"><text x="552" y="561.3" class="e">45</text><text x="619" y="561.3" class="e">15</text><text x="686" y="561.3" class="e">23</text><text x="753" y="561.3" class="e">12</text><text x="820" y="561.3" class="e">0</text><text x="916" y="561.3" class="e">324</text></g>
</g>
</svg>
